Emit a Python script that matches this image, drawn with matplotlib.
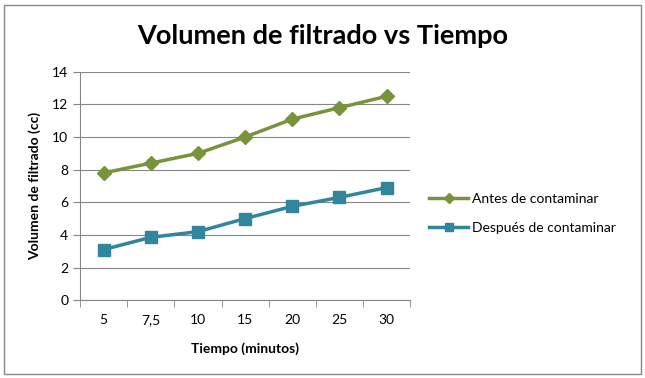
import matplotlib
matplotlib.use("Agg")
import matplotlib.pyplot as plt
from matplotlib.patches import Rectangle

# datos
tiempos = ["5", "7,5", "10", "15", "20", "25", "30"]
antes = [7.8, 8.4, 9.0, 10.0, 11.1, 11.8, 12.5]
despues = [3.1, 3.85, 4.2, 5.0, 5.75, 6.3, 6.9]

verde = "#77933C"
azul = "#31859C"

plt.rcParams['font.family'] = ['Lato', 'DejaVu Sans']

fig = plt.figure(figsize=(6.45, 3.78), dpi=100)
fig.patches.append(Rectangle((0.006, 0.01), 0.988, 0.978, transform=fig.transFigure,
                             fill=False, edgecolor="#888888", linewidth=1))
ax = fig.add_axes([0.124, 0.206, 0.512, 0.604])

x = list(range(len(tiempos)))
ax.plot(x, antes, color=verde, linewidth=2.5, marker="D", markersize=7,
        label="Antes de contaminar")
ax.plot(x, despues, color=azul, linewidth=2.5, marker="s", markersize=9,
        label="Después de contaminar")

ax.set_xlim(-0.5, len(tiempos) - 0.5)
ax.set_ylim(0, 14)
ax.set_yticks(range(0, 15, 2))
ax.set_xticks(x)
ax.set_xticklabels(tiempos)
ax.set_xticks([i - 0.5 for i in range(len(tiempos) + 1)], minor=True)
ax.tick_params(axis="x", which="major", length=0, pad=10, labelsize=10)
ax.tick_params(axis="x", which="minor", length=5, color="#868686")
ax.tick_params(axis="y", length=5, color="#868686", labelsize=10)
ax.grid(axis="y", color="#868686", linewidth=0.8)
ax.set_axisbelow(True)
for s in ["top", "right"]:
    ax.spines[s].set_visible(False)
for s in ["left", "bottom"]:
    ax.spines[s].set_color("#868686")

ax.set_xlabel("Tiempo (minutos)", fontweight="bold", fontsize=10, labelpad=12)
ax.set_ylabel("Volumen de filtrado (cc)", fontweight="bold", fontsize=10, labelpad=8)
fig.text(0.5, 0.905, "Volumen de filtrado vs Tiempo", ha="center", va="center",
         fontsize=19.5, fontweight="bold")

ax.legend(loc="center left", bbox_to_anchor=(1.02, 0.38), frameon=False,
          fontsize=10, handlelength=2.8, labelspacing=1.2, markerscale=0.7,
          handletextpad=0.3)

fig.savefig("out.png", dpi=100)
